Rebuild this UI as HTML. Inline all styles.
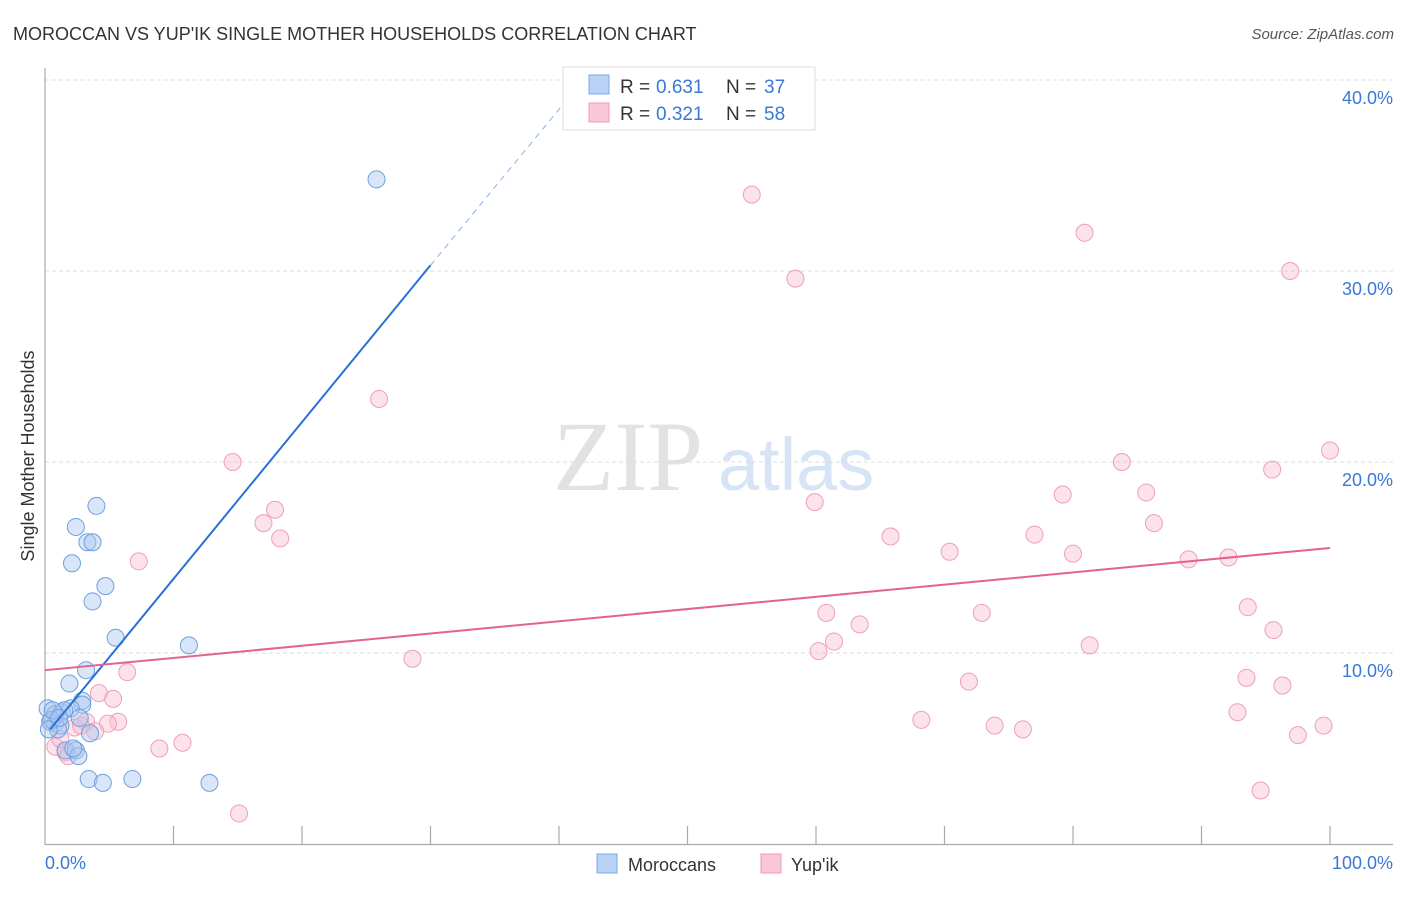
<!DOCTYPE html>
<html><head><meta charset="utf-8"><style>
body{margin:0;background:#fff;font-family:"Liberation Sans",sans-serif;}
</style></head><body>
<svg id="chart" width="1406" height="892" xmlns="http://www.w3.org/2000/svg" font-family="Liberation Sans, sans-serif">
<text x="13" y="40" font-size="18" fill="#333">MOROCCAN VS YUP'IK SINGLE MOTHER HOUSEHOLDS CORRELATION CHART</text>
<text x="1394" y="39" font-size="15" fill="#555" font-style="italic" text-anchor="end">Source: ZipAtlas.com</text>
<g>
<text x="553" y="490" font-size="100" fill="#e2e2e2" style="font-family:'Liberation Serif',serif">ZIP</text>
<text x="718" y="490" font-size="74" fill="#d6e4f5">atlas</text>
</g>
<g id="grid"></g>
<line x1="45" y1="68" x2="45" y2="845" stroke="#aaa" stroke-width="1.2"/>
<line x1="45" y1="844.5" x2="1393" y2="844.5" stroke="#aaa" stroke-width="1.2"/>
<g id="xticks"></g>
<text x="34" y="456" font-size="18" fill="#333" text-anchor="middle" transform="rotate(-90 34 456)">Single Mother Households</text>
<text x="45" y="869" font-size="18" fill="#3a78d4">0.0%</text>
<text x="1393" y="869" font-size="18" fill="#3a78d4" text-anchor="end">100.0%</text>
<g id="pts"></g>
<g id="lines"></g>
<g>
<rect x="563" y="67" width="252" height="63" fill="#fff" stroke="#ddd"/>
<rect x="589" y="75" width="20" height="19" fill="#b8d3f5" stroke="#7aa8e4"/>
<rect x="589" y="103" width="20" height="19" fill="#f9c7d6" stroke="#ef9bb5"/>
<text y="93" font-size="19" fill="#333"><tspan x="620">R =</tspan><tspan x="656" fill="#3a78d4">0.631</tspan><tspan x="726">N =</tspan><tspan x="764" fill="#3a78d4">37</tspan></text>
<text y="120" font-size="19" fill="#333"><tspan x="620">R =</tspan><tspan x="656" fill="#3a78d4">0.321</tspan><tspan x="726">N =</tspan><tspan x="764" fill="#3a78d4">58</tspan></text>
</g>
<g>
<rect x="597" y="854" width="20" height="19" fill="#b8d3f5" stroke="#7aa8e4"/>
<text x="628" y="871" font-size="18" fill="#333">Moroccans</text>
<rect x="761" y="854" width="20" height="19" fill="#f9c7d6" stroke="#ef9bb5"/>
<text x="791" y="871" font-size="18" fill="#333">Yup'ik</text>
</g>
</svg>
<script>
const yTicks=[10,20,30,40];
const yTickLabels=["10.0%","20.0%","30.0%","40.0%"];
const xTicks=[10,20,30,40,50,60,70,80,90,100];
const blueX=[25.8,4.0,2.4,3.3,3.7,2.1,4.7,3.7,5.5,11.2,3.2,1.9,2.9,2.9,0.2,0.8,1.3,0.4,0.8,1.2,2.0,2.7,3.5,1.6,2.4,2.6,3.4,4.5,6.8,12.8,1.0,0.5,1.5,0.3,2.2,0.6,1.1];
const blueY=[34.8,17.7,16.6,15.8,15.8,14.7,13.5,12.7,10.8,10.4,9.1,8.4,7.5,7.3,7.1,6.8,6.9,6.4,6.3,6.2,7.1,6.6,5.8,4.9,4.9,4.6,3.4,3.2,3.4,3.2,6.0,6.5,7.0,6.0,5.0,7.0,6.6];
const pinkX=[55.0,80.9,96.9,58.4,26.0,14.6,100,83.8,95.5,79.2,85.7,59.9,17.9,17.0,86.3,18.3,65.8,77.0,70.4,80.0,89.0,92.1,7.3,60.8,72.9,93.6,63.4,95.6,61.4,60.2,81.3,28.6,6.4,71.9,93.5,96.3,4.2,5.3,68.2,92.8,5.7,4.9,3.2,2.3,73.9,76.1,3.9,99.5,97.5,10.7,8.9,0.8,1.6,1.8,94.6,15.1,1.2,2.8];
const pinkY=[34.0,32.0,30.0,29.6,23.3,20.0,20.6,20.0,19.6,18.3,18.4,17.9,17.5,16.8,16.8,16.0,16.1,16.2,15.3,15.2,14.9,15.0,14.8,12.1,12.1,12.4,11.5,11.2,10.6,10.1,10.4,9.7,9.0,8.5,8.7,8.3,7.9,7.6,6.5,6.9,6.4,6.3,6.4,6.1,6.2,6.0,5.9,6.2,5.7,5.3,5.0,5.1,4.8,4.6,2.8,1.6,5.5,6.2];
const blueLine=[0.4,6.0,30,30.3,42,40.1];
const pinkLine=[0,9.1,100,15.5];
const X=v=>45+v*12.85, Y=v=>844-v*19.1;
const NS="http://www.w3.org/2000/svg";
function mk(t,a,p){const e=document.createElementNS(NS,t);for(const k in a)e.setAttribute(k,a[k]);p.appendChild(e);return e;}
const grid=document.getElementById('grid');
yTicks.forEach((t,i)=>{
 const l=mk('line',{x1:45,x2:1393,y1:Y(t),y2:Y(t),stroke:'#ddd','stroke-dasharray':'4,3'},grid);
 
 
 const tx=mk('text',{x:1393,y:Y(t)+24,'font-size':18,fill:'#3a78d4','text-anchor':'end'},grid);
 tx.textContent=yTickLabels[i];
 
 
});
const xt=document.getElementById('xticks');
xTicks.forEach(t=>{
 const l=mk('line',{x1:X(t),x2:X(t),y1:826,y2:844,stroke:'#aaa','stroke-width':1.2},xt);
 
 
});
const pts=document.getElementById('pts');
pinkX.forEach((v,i)=>{
 const c=mk('circle',{cx:X(v),cy:Y(pinkY[i]),r:8.5,fill:'rgba(248,190,208,0.45)',stroke:'#eea0b8','stroke-width':1},pts);
 
 
});
blueX.forEach((v,i)=>{
 const c=mk('circle',{cx:X(v),cy:Y(blueY[i]),r:8.5,fill:'rgba(170,200,240,0.45)',stroke:'#6f9fe0','stroke-width':1},pts);
 
 
});
const lines=document.getElementById('lines');
let l=mk('line',{x1:X(blueLine[0]),y1:Y(blueLine[1]),x2:X(blueLine[2]),y2:Y(blueLine[3]),stroke:'#2a70d8','stroke-width':2},lines);


l=mk('line',{x1:X(blueLine[2]),y1:Y(blueLine[3]),x2:X(blueLine[4]),y2:Y(blueLine[5]),stroke:'#8ab0e8','stroke-width':1,'stroke-dasharray':'6,5'},lines);


l=mk('line',{x1:X(pinkLine[0]),y1:Y(pinkLine[1]),x2:X(pinkLine[2]),y2:Y(pinkLine[3]),stroke:'#e4628f','stroke-width':2},lines);


</script>
</body></html>
